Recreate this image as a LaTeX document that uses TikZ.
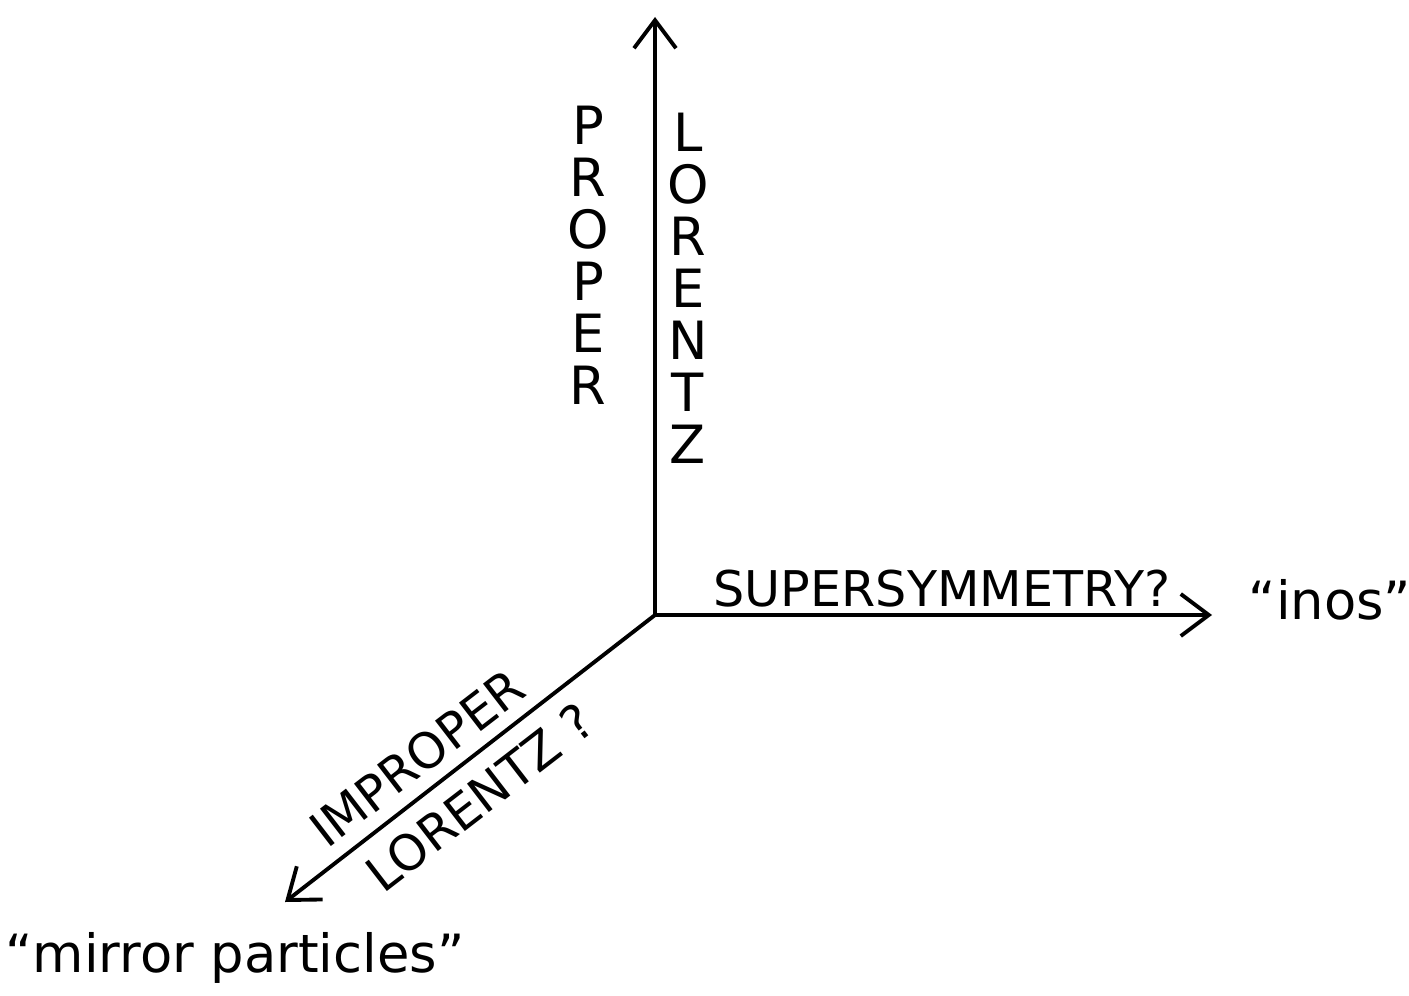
\documentclass[tikz,border=0pt]{standalone}
\usepackage{fontspec}
\setmainfont{DejaVu Sans}
\usetikzlibrary{arrows.meta}

\begin{document}
\begin{tikzpicture}[
  axisarr/.style={-{Straight Barb[length=0.28cm,width=0.42cm]},line width=1.1pt},
  stacklbl/.style={align=center,font=\fontsize{15}{14.8}\selectfont},
  axislbl/.style={font=\fontsize{14}{16}\selectfont},
  quotelbl/.style={font=\fontsize{15}{17}\selectfont}
]
  \useasboundingbox (0,0) rectangle (14.09,9.95);
  % Axes
  \coordinate (origin) at (6.55,3.80);
  \coordinate (up) at (6.55,9.78);
  \coordinate (right) at (12.12,3.80);
  \coordinate (down) at (2.85,0.93);
  \draw[axisarr] (origin) -- (up);
  \draw[axisarr] (origin) -- (right);
  \draw[axisarr] (origin) -- (down);
  % Vertical labels
  \node[stacklbl] (proper) at (5.88,7.40) {P\\R\\O\\P\\E\\R};
  \node[stacklbl] (lorentz) at (6.88,7.07) {L\\O\\R\\E\\N\\T\\Z};
  % Horizontal labels
  \node[axislbl] (susy) at (9.42,4.06) {SUPERSYMMETRY?};
  \node[quotelbl] (inos) at (13.30,3.95) {“inos”};
  % Diagonal labels
  \node[axislbl,rotate=37.6] (improper) at (4.17,2.37) {IMPROPER};
  \node[axislbl,rotate=37.6] (lorentzq) at (4.80,1.98) {LORENTZ ?};
  \node[quotelbl] (mirror) at (2.35,0.37) {“mirror particles”};
\end{tikzpicture}
\end{document}
